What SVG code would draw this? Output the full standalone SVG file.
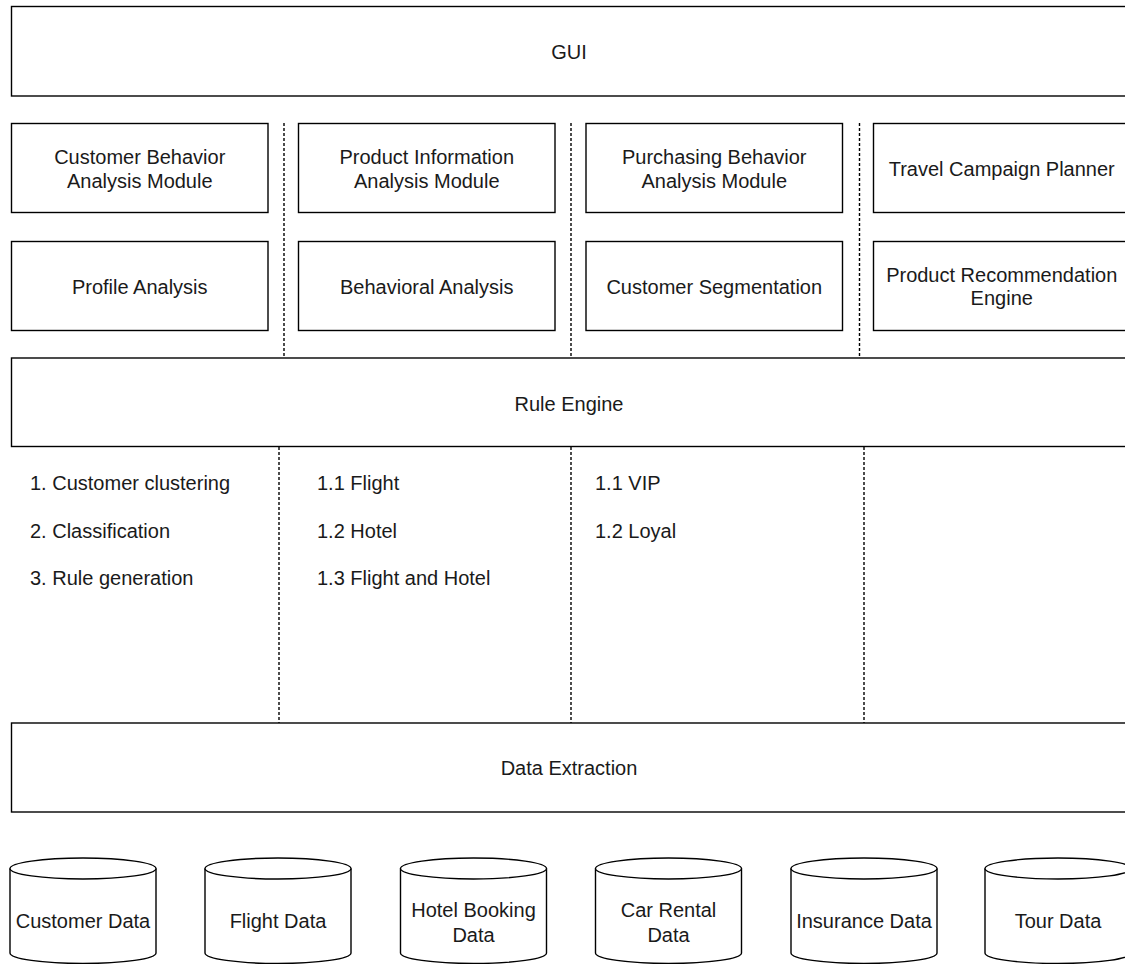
<svg xmlns="http://www.w3.org/2000/svg" width="1125" height="964" viewBox="0 0 1125 964">
<style>
.box{fill:#fff;stroke:#000;stroke-width:1.4}
.dash{fill:none;stroke:#000;stroke-width:1.4;stroke-dasharray:3 2}
text{font-family:"Liberation Sans",Arial,Helvetica,sans-serif;font-size:20px;fill:#1a1a1a}
.c{text-anchor:middle}
</style>
<rect width="1125" height="964" fill="#fff"/>
<g id="connectors">
<line class="dash" x1="284" y1="123" x2="284" y2="358"/>
<line class="dash" x1="571" y1="123" x2="571" y2="358"/>
<line class="dash" x1="859.5" y1="123" x2="859.5" y2="358"/>
<line class="dash" x1="279" y1="447" x2="279" y2="723"/>
<line class="dash" x1="571" y1="447" x2="571" y2="723"/>
<line class="dash" x1="864" y1="447" x2="864" y2="723"/>
</g>
<g id="gui"><rect class="box" x="11.5" y="6.5" width="1115" height="89.5"/><text class="c" x="569" y="58.5">GUI</text></g>
<g id="cbam"><rect class="box" x="11.5" y="123.5" width="256.5" height="89"/><text class="c" x="139.75" y="163.5">Customer Behavior</text><text class="c" x="139.75" y="187.5">Analysis Module</text></g>
<g id="piam"><rect class="box" x="298.5" y="123.5" width="256.5" height="89"/><text class="c" x="426.75" y="163.5">Product Information</text><text class="c" x="426.75" y="187.5">Analysis Module</text></g>
<g id="pbam"><rect class="box" x="586" y="123.5" width="256.5" height="89"/><text class="c" x="714.25" y="163.5">Purchasing Behavior</text><text class="c" x="714.25" y="187.5">Analysis Module</text></g>
<g id="tcp"><rect class="box" x="873.5" y="123.5" width="256.5" height="89"/><text class="c" x="1001.75" y="175.5">Travel Campaign Planner</text></g>
<g id="pa"><rect class="box" x="11.5" y="241.5" width="256.5" height="89"/><text class="c" x="139.75" y="293.5">Profile Analysis</text></g>
<g id="ba"><rect class="box" x="298.5" y="241.5" width="256.5" height="89"/><text class="c" x="426.75" y="293.5">Behavioral Analysis</text></g>
<g id="cs"><rect class="box" x="586" y="241.5" width="256.5" height="89"/><text class="c" x="714.25" y="293.5">Customer Segmentation</text></g>
<g id="pre"><rect class="box" x="873.5" y="241.5" width="256.5" height="89"/><text class="c" x="1001.75" y="281.5">Product Recommendation</text><text class="c" x="1001.75" y="305">Engine</text></g>
<g id="rule"><rect class="box" x="11.5" y="358" width="1115" height="88.5"/><text class="c" x="569" y="410.5">Rule Engine</text></g>
<g id="list1"><text x="30" y="490">1. Customer clustering</text><text x="30" y="537.5">2. Classification</text><text x="30" y="585">3. Rule generation</text></g>
<g id="list2"><text x="317" y="490">1.1 Flight</text><text x="317" y="537.5">1.2 Hotel</text><text x="317" y="585">1.3 Flight and Hotel</text></g>
<g id="list3"><text x="595" y="490">1.1 VIP</text><text x="595" y="537.5">1.2 Loyal</text></g>
<g id="extract"><rect class="box" x="11.5" y="723" width="1115" height="89"/><text class="c" x="569" y="775">Data Extraction</text></g>
<g id="db-customer"><path class="box" d="M10 868.5V953A73 10.5 0 0 0 156 953V868.5"/><ellipse class="box" cx="83" cy="868.5" rx="73" ry="10.5"/><text class="c" x="83" y="928">Customer Data</text></g>
<g id="db-flight"><path class="box" d="M205 868.5V953A73 10.5 0 0 0 351 953V868.5"/><ellipse class="box" cx="278" cy="868.5" rx="73" ry="10.5"/><text class="c" x="278" y="928">Flight Data</text></g>
<g id="db-hotel"><path class="box" d="M400.5 868.5V953A73 10.5 0 0 0 546.5 953V868.5"/><ellipse class="box" cx="473.5" cy="868.5" rx="73" ry="10.5"/><text class="c" x="473.5" y="916.5">Hotel Booking</text><text class="c" x="473.5" y="941.5">Data</text></g>
<g id="db-car"><path class="box" d="M595.5 868.5V953A73 10.5 0 0 0 741.5 953V868.5"/><ellipse class="box" cx="668.5" cy="868.5" rx="73" ry="10.5"/><text class="c" x="668.5" y="916.5">Car Rental</text><text class="c" x="668.5" y="941.5">Data</text></g>
<g id="db-insurance"><path class="box" d="M791 868.5V953A73 10.5 0 0 0 937 953V868.5"/><ellipse class="box" cx="864" cy="868.5" rx="73" ry="10.5"/><text class="c" x="864" y="928">Insurance Data</text></g>
<g id="db-tour"><path class="box" d="M985 868.5V953A73 10.5 0 0 0 1131 953V868.5"/><ellipse class="box" cx="1058" cy="868.5" rx="73" ry="10.5"/><text class="c" x="1058" y="928">Tour Data</text></g>
</svg>
